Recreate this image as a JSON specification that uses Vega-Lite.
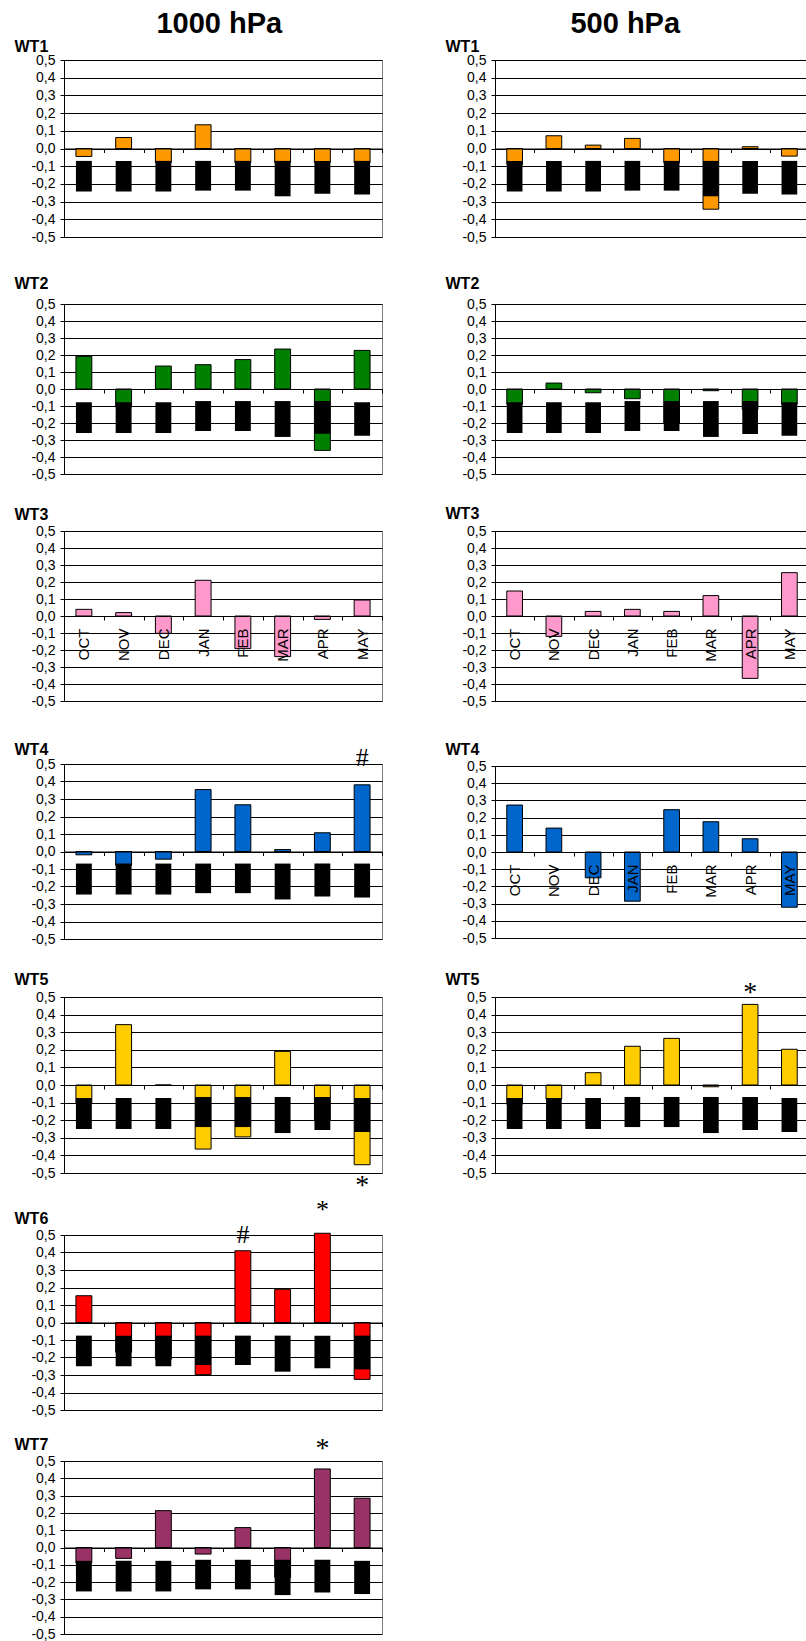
{
"$schema": "https://vega.github.io/schema/vega-lite/v6.json",
"padding": {"left": 13, "top": 9, "right": 0, "bottom": 0},
"config": {
 "font": "Liberation Sans",
 "view": {"stroke": "#808080", "strokeWidth": 1},
 "locale": {"number": {"decimal": ",", "thousands": ".", "grouping": [3], "currency": ["", ""], "minus": "-"}},
 "axis": {"domainColor": "#000", "tickColor": "#000", "labelColor": "#000", "titleColor": "#000", "labelFont": "Liberation Sans", "titleFont": "Liberation Sans", "domainWidth": 1, "tickWidth": 1},
 "axisY": {"format": ".1f", "grid": true, "gridColor": "#000", "gridWidth": 1, "tickSize": 4, "labelPadding": 5, "labelFontSize": 14, "labelOverlap": false, "minExtent": 50, "maxExtent": 50, "titleAngle": 0, "titleAlign": "left", "titleBaseline": "alphabetic", "titleFontSize": 16, "titleFontWeight": "bold"},
 "axisX": {"title": null, "labelAngle": 270, "labelFontSize": 15, "labelPadding": 8, "labelOverlap": false, "tickSize": 4, "tickBand": "extent", "grid": false},
 "title": {"font": "Liberation Sans", "fontSize": 29, "fontWeight": "bold", "color": "#000", "baseline": "alphabetic"}
},
"datasets": {
 "bars": [
  {"p":"1000","wt":"WT1","m":"OCT","v":-0.045,"hi":-0.07,"lo":-0.243},
  {"p":"1000","wt":"WT1","m":"NOV","v":0.062,"hi":-0.07,"lo":-0.243},
  {"p":"1000","wt":"WT1","m":"DEC","v":-0.08,"hi":-0.07,"lo":-0.243},
  {"p":"1000","wt":"WT1","m":"JAN","v":0.134,"hi":-0.07,"lo":-0.238},
  {"p":"1000","wt":"WT1","m":"FEB","v":-0.08,"hi":-0.07,"lo":-0.238},
  {"p":"1000","wt":"WT1","m":"MAR","v":-0.08,"hi":-0.07,"lo":-0.27},
  {"p":"1000","wt":"WT1","m":"APR","v":-0.08,"hi":-0.07,"lo":-0.255},
  {"p":"1000","wt":"WT1","m":"MAY","v":-0.08,"hi":-0.07,"lo":-0.26},
  {"p":"500","wt":"WT1","m":"OCT","v":-0.09,"hi":-0.07,"lo":-0.243},
  {"p":"500","wt":"WT1","m":"NOV","v":0.072,"hi":-0.07,"lo":-0.243},
  {"p":"500","wt":"WT1","m":"DEC","v":0.019,"hi":-0.07,"lo":-0.243},
  {"p":"500","wt":"WT1","m":"JAN","v":0.057,"hi":-0.07,"lo":-0.238},
  {"p":"500","wt":"WT1","m":"FEB","v":-0.08,"hi":-0.07,"lo":-0.238},
  {"p":"500","wt":"WT1","m":"MAR","v":-0.343,"hi":-0.07,"lo":-0.27},
  {"p":"500","wt":"WT1","m":"APR","v":0.01,"hi":-0.07,"lo":-0.255},
  {"p":"500","wt":"WT1","m":"MAY","v":-0.043,"hi":-0.07,"lo":-0.26},
  {"p":"1000","wt":"WT2","m":"OCT","v":0.192,"hi":-0.078,"lo":-0.259},
  {"p":"1000","wt":"WT2","m":"NOV","v":-0.106,"hi":-0.078,"lo":-0.259},
  {"p":"1000","wt":"WT2","m":"DEC","v":0.135,"hi":-0.078,"lo":-0.259},
  {"p":"1000","wt":"WT2","m":"JAN","v":0.143,"hi":-0.071,"lo":-0.247},
  {"p":"1000","wt":"WT2","m":"FEB","v":0.173,"hi":-0.071,"lo":-0.247},
  {"p":"1000","wt":"WT2","m":"MAR","v":0.235,"hi":-0.071,"lo":-0.282},
  {"p":"1000","wt":"WT2","m":"APR","v":-0.361,"hi":-0.071,"lo":-0.263},
  {"p":"1000","wt":"WT2","m":"MAY","v":0.227,"hi":-0.078,"lo":-0.275},
  {"p":"500","wt":"WT2","m":"OCT","v":-0.09,"hi":-0.078,"lo":-0.259},
  {"p":"500","wt":"WT2","m":"NOV","v":0.035,"hi":-0.078,"lo":-0.259},
  {"p":"500","wt":"WT2","m":"DEC","v":-0.022,"hi":-0.078,"lo":-0.259},
  {"p":"500","wt":"WT2","m":"JAN","v":-0.057,"hi":-0.071,"lo":-0.247},
  {"p":"500","wt":"WT2","m":"FEB","v":-0.2,"hi":-0.071,"lo":-0.247},
  {"p":"500","wt":"WT2","m":"MAR","v":-0.01,"hi":-0.071,"lo":-0.282},
  {"p":"500","wt":"WT2","m":"APR","v":-0.12,"hi":-0.071,"lo":-0.265},
  {"p":"500","wt":"WT2","m":"MAY","v":-0.09,"hi":-0.078,"lo":-0.275},
  {"p":"1000","wt":"WT3","m":"OCT","v":0.039},
  {"p":"1000","wt":"WT3","m":"NOV","v":0.02},
  {"p":"1000","wt":"WT3","m":"DEC","v":-0.102},
  {"p":"1000","wt":"WT3","m":"JAN","v":0.21},
  {"p":"1000","wt":"WT3","m":"FEB","v":-0.192},
  {"p":"1000","wt":"WT3","m":"MAR","v":-0.239},
  {"p":"1000","wt":"WT3","m":"APR","v":-0.02},
  {"p":"1000","wt":"WT3","m":"MAY","v":0.094},
  {"p":"500","wt":"WT3","m":"OCT","v":0.147},
  {"p":"500","wt":"WT3","m":"NOV","v":-0.12},
  {"p":"500","wt":"WT3","m":"DEC","v":0.027},
  {"p":"500","wt":"WT3","m":"JAN","v":0.039},
  {"p":"500","wt":"WT3","m":"FEB","v":0.027},
  {"p":"500","wt":"WT3","m":"MAR","v":0.12},
  {"p":"500","wt":"WT3","m":"APR","v":-0.367},
  {"p":"500","wt":"WT3","m":"MAY","v":0.255},
  {"p":"1000","wt":"WT4","m":"OCT","v":-0.019,"hi":-0.069,"lo":-0.246},
  {"p":"1000","wt":"WT4","m":"NOV","v":-0.08,"hi":-0.069,"lo":-0.246},
  {"p":"1000","wt":"WT4","m":"DEC","v":-0.044,"hi":-0.069,"lo":-0.246},
  {"p":"1000","wt":"WT4","m":"JAN","v":0.354,"hi":-0.069,"lo":-0.238},
  {"p":"1000","wt":"WT4","m":"FEB","v":0.267,"hi":-0.069,"lo":-0.238},
  {"p":"1000","wt":"WT4","m":"MAR","v":0.011,"hi":-0.069,"lo":-0.274},
  {"p":"1000","wt":"WT4","m":"APR","v":0.107,"hi":-0.069,"lo":-0.257},
  {"p":"1000","wt":"WT4","m":"MAY","v":0.381,"hi":-0.069,"lo":-0.263},
  {"p":"500","wt":"WT4","m":"OCT","v":0.273},
  {"p":"500","wt":"WT4","m":"NOV","v":0.139},
  {"p":"500","wt":"WT4","m":"DEC","v":-0.15},
  {"p":"500","wt":"WT4","m":"JAN","v":-0.286},
  {"p":"500","wt":"WT4","m":"FEB","v":0.246},
  {"p":"500","wt":"WT4","m":"MAR","v":0.176},
  {"p":"500","wt":"WT4","m":"APR","v":0.077},
  {"p":"500","wt":"WT4","m":"MAY","v":-0.321},
  {"p":"1000","wt":"WT5","m":"OCT","v":-0.108,"hi":-0.074,"lo":-0.25},
  {"p":"1000","wt":"WT5","m":"NOV","v":0.343,"hi":-0.074,"lo":-0.25},
  {"p":"1000","wt":"WT5","m":"DEC","v":0,"hi":-0.074,"lo":-0.25},
  {"p":"1000","wt":"WT5","m":"JAN","v":-0.364,"hi":-0.068,"lo":-0.239},
  {"p":"1000","wt":"WT5","m":"FEB","v":-0.295,"hi":-0.068,"lo":-0.239},
  {"p":"1000","wt":"WT5","m":"MAR","v":0.191,"hi":-0.068,"lo":-0.273},
  {"p":"1000","wt":"WT5","m":"APR","v":-0.2,"hi":-0.068,"lo":-0.256},
  {"p":"1000","wt":"WT5","m":"MAY","v":-0.453,"hi":-0.074,"lo":-0.267},
  {"p":"500","wt":"WT5","m":"OCT","v":-0.11,"hi":-0.074,"lo":-0.25},
  {"p":"500","wt":"WT5","m":"NOV","v":-0.08,"hi":-0.074,"lo":-0.25},
  {"p":"500","wt":"WT5","m":"DEC","v":0.07,"hi":-0.074,"lo":-0.25},
  {"p":"500","wt":"WT5","m":"JAN","v":0.22,"hi":-0.068,"lo":-0.239},
  {"p":"500","wt":"WT5","m":"FEB","v":0.265,"hi":-0.068,"lo":-0.239},
  {"p":"500","wt":"WT5","m":"MAR","v":-0.01,"hi":-0.068,"lo":-0.273},
  {"p":"500","wt":"WT5","m":"APR","v":0.458,"hi":-0.068,"lo":-0.256},
  {"p":"500","wt":"WT5","m":"MAY","v":0.203,"hi":-0.074,"lo":-0.267},
  {"p":"1000","wt":"WT6","m":"OCT","v":0.153,"hi":-0.075,"lo":-0.25},
  {"p":"1000","wt":"WT6","m":"NOV","v":-0.17,"hi":-0.075,"lo":-0.25},
  {"p":"1000","wt":"WT6","m":"DEC","v":-0.21,"hi":-0.075,"lo":-0.25},
  {"p":"1000","wt":"WT6","m":"JAN","v":-0.298,"hi":-0.075,"lo":-0.243},
  {"p":"1000","wt":"WT6","m":"FEB","v":0.41,"hi":-0.075,"lo":-0.243},
  {"p":"1000","wt":"WT6","m":"MAR","v":0.19,"hi":-0.075,"lo":-0.281},
  {"p":"1000","wt":"WT6","m":"APR","v":0.51,"hi":-0.075,"lo":-0.262},
  {"p":"1000","wt":"WT6","m":"MAY","v":-0.325,"hi":-0.075,"lo":-0.268},
  {"p":"1000","wt":"WT7","m":"OCT","v":-0.09,"hi":-0.077,"lo":-0.254},
  {"p":"1000","wt":"WT7","m":"NOV","v":-0.063,"hi":-0.077,"lo":-0.254},
  {"p":"1000","wt":"WT7","m":"DEC","v":0.213,"hi":-0.077,"lo":-0.254},
  {"p":"1000","wt":"WT7","m":"JAN","v":-0.038,"hi":-0.071,"lo":-0.242},
  {"p":"1000","wt":"WT7","m":"FEB","v":0.115,"hi":-0.071,"lo":-0.242},
  {"p":"1000","wt":"WT7","m":"MAR","v":-0.173,"hi":-0.071,"lo":-0.275},
  {"p":"1000","wt":"WT7","m":"APR","v":0.454,"hi":-0.071,"lo":-0.26},
  {"p":"1000","wt":"WT7","m":"MAY","v":0.285,"hi":-0.077,"lo":-0.269}
 ],
 "notes": [
  {"p":"1000","wt":"WT4","m":"MAY","s":"#","pos":0.535},
  {"p":"1000","wt":"WT5","m":"MAY","s":"*","pos":-0.576},
  {"p":"1000","wt":"WT6","m":"FEB","s":"#","pos":0.5},
  {"p":"1000","wt":"WT6","m":"APR","s":"*","pos":0.645},
  {"p":"1000","wt":"WT7","m":"APR","s":"*","pos":0.567},
  {"p":"500","wt":"WT5","m":"APR","s":"*","pos":0.52}
 ]
},
"spacing": 61,
"hconcat": [
 {
  "title": {"text": "1000 hPa", "anchor": "middle", "offset": -1, "dx": 21},
  "bounds": "flush",
  "spacing": 0,
  "vconcat": [
   {"width": 318, "height": 177,
    "encoding": {"x": {"field": "m", "type": "nominal", "scale": {"domain": ["OCT","NOV","DEC","JAN","FEB","MAR","APR","MAY"], "paddingInner": 0, "paddingOuter": 0}, "axis": {"offset": -88.5, "labels": false, "zindex": 1}}},
    "layer": [
     {"data": {"name": "bars"}, "transform": [{"filter": "datum.p == '1000' && datum.wt == 'WT1'"}],
      "mark": {"type": "bar", "width": {"band": 0.4}, "fill": "#FF9900", "stroke": "#000", "strokeWidth": 1},
      "encoding": {"y": {"field": "v", "type": "quantitative", "title": "WT1", "scale": {"domain": [-0.5, 0.5], "nice": false}, "axis": {"titleX": -50, "titleY": -9, "values": [-0.5,-0.4,-0.3,-0.2,-0.1,0,0.1,0.2,0.3,0.4,0.5], "labelOverlap": false}}, "y2": {"datum": 0}}},
     {"data": {"name": "bars"}, "transform": [{"filter": "datum.p == '1000' && datum.wt == 'WT1'"}],
      "mark": {"type": "bar", "width": {"band": 0.4}, "fill": "#000"},
      "encoding": {"y": {"field": "hi", "type": "quantitative", "title": "WT1", "axis": {"titleX": -50, "titleY": -9, "values": [-0.5,-0.4,-0.3,-0.2,-0.1,0,0.1,0.2,0.3,0.4,0.5], "labelOverlap": false}}, "y2": {"field": "lo"}}}
    ]},
   {"width": 10, "height": 67, "view": {"stroke": null}, "data": {"values": []}, "mark": "point", "encoding": {}},
   {"width": 318, "height": 170,
    "encoding": {"x": {"field": "m", "type": "nominal", "scale": {"domain": ["OCT","NOV","DEC","JAN","FEB","MAR","APR","MAY"], "paddingInner": 0, "paddingOuter": 0}, "axis": {"offset": -85, "labels": false, "zindex": 1}}},
    "layer": [
     {"data": {"name": "bars"}, "transform": [{"filter": "datum.p == '1000' && datum.wt == 'WT2'"}],
      "mark": {"type": "bar", "width": {"band": 0.4}, "fill": "#008000", "stroke": "#000", "strokeWidth": 1},
      "encoding": {"y": {"field": "v", "type": "quantitative", "title": "WT2", "scale": {"domain": [-0.5, 0.5], "nice": false}, "axis": {"titleX": -50, "titleY": -16, "values": [-0.5,-0.4,-0.3,-0.2,-0.1,0,0.1,0.2,0.3,0.4,0.5], "labelOverlap": false}}, "y2": {"datum": 0}}},
     {"data": {"name": "bars"}, "transform": [{"filter": "datum.p == '1000' && datum.wt == 'WT2'"}],
      "mark": {"type": "bar", "width": {"band": 0.4}, "fill": "#000"},
      "encoding": {"y": {"field": "hi", "type": "quantitative", "title": "WT2", "axis": {"titleX": -50, "titleY": -16, "values": [-0.5,-0.4,-0.3,-0.2,-0.1,0,0.1,0.2,0.3,0.4,0.5], "labelOverlap": false}}, "y2": {"field": "lo"}}}
    ]},
   {"width": 10, "height": 57, "view": {"stroke": null}, "data": {"values": []}, "mark": "point", "encoding": {}},
   {"width": 318, "height": 170,
    "encoding": {"x": {"field": "m", "type": "nominal", "scale": {"domain": ["OCT","NOV","DEC","JAN","FEB","MAR","APR","MAY"], "paddingInner": 0, "paddingOuter": 0}, "axis": {"offset": -85, "labels": true, "zindex": 1}}},
    "layer": [
     {"data": {"name": "bars"}, "transform": [{"filter": "datum.p == '1000' && datum.wt == 'WT3'"}],
      "mark": {"type": "bar", "width": {"band": 0.4}, "fill": "#FF99CC", "stroke": "#000", "strokeWidth": 1},
      "encoding": {"y": {"field": "v", "type": "quantitative", "title": "WT3", "scale": {"domain": [-0.5, 0.5], "nice": false}, "axis": {"titleX": -50, "titleY": -12, "values": [-0.5,-0.4,-0.3,-0.2,-0.1,0,0.1,0.2,0.3,0.4,0.5], "labelOverlap": false}}, "y2": {"datum": 0}}}
    ]},
   {"width": 10, "height": 63, "view": {"stroke": null}, "data": {"values": []}, "mark": "point", "encoding": {}},
   {"width": 318, "height": 175,
    "encoding": {"x": {"field": "m", "type": "nominal", "scale": {"domain": ["OCT","NOV","DEC","JAN","FEB","MAR","APR","MAY"], "paddingInner": 0, "paddingOuter": 0}, "axis": {"offset": -87.5, "labels": false, "zindex": 1}}},
    "layer": [
     {"data": {"name": "bars"}, "transform": [{"filter": "datum.p == '1000' && datum.wt == 'WT4'"}],
      "mark": {"type": "bar", "width": {"band": 0.4}, "fill": "#0066CC", "stroke": "#000", "strokeWidth": 1},
      "encoding": {"y": {"field": "v", "type": "quantitative", "title": "WT4", "scale": {"domain": [-0.5, 0.5], "nice": false}, "axis": {"titleX": -50, "titleY": -10, "values": [-0.5,-0.4,-0.3,-0.2,-0.1,0,0.1,0.2,0.3,0.4,0.5], "labelOverlap": false}}, "y2": {"datum": 0}}},
     {"data": {"name": "bars"}, "transform": [{"filter": "datum.p == '1000' && datum.wt == 'WT4'"}],
      "mark": {"type": "bar", "width": {"band": 0.4}, "fill": "#000"},
      "encoding": {"y": {"field": "hi", "type": "quantitative", "title": "WT4", "axis": {"titleX": -50, "titleY": -10, "values": [-0.5,-0.4,-0.3,-0.2,-0.1,0,0.1,0.2,0.3,0.4,0.5], "labelOverlap": false}}, "y2": {"field": "lo"}}},
     {"data": {"name": "notes"}, "transform": [{"filter": "datum.p == '1000' && datum.wt == 'WT4'"}],
      "mark": {"type": "text", "font": "Liberation Serif", "fontSize": 26, "baseline": "middle", "color": "#000"},
      "encoding": {"y": {"field": "pos", "type": "quantitative", "title": "WT4", "axis": {"titleX": -50, "titleY": -10, "values": [-0.5,-0.4,-0.3,-0.2,-0.1,0,0.1,0.2,0.3,0.4,0.5], "labelOverlap": false}}, "text": {"field": "s"}}}
    ]},
   {"width": 10, "height": 58, "view": {"stroke": null}, "data": {"values": []}, "mark": "point", "encoding": {}},
   {"width": 318, "height": 176,
    "encoding": {"x": {"field": "m", "type": "nominal", "scale": {"domain": ["OCT","NOV","DEC","JAN","FEB","MAR","APR","MAY"], "paddingInner": 0, "paddingOuter": 0}, "axis": {"offset": -88, "labels": false, "zindex": 1}}},
    "layer": [
     {"data": {"name": "bars"}, "transform": [{"filter": "datum.p == '1000' && datum.wt == 'WT5'"}],
      "mark": {"type": "bar", "width": {"band": 0.4}, "fill": "#FFCC00", "stroke": "#000", "strokeWidth": 1},
      "encoding": {"y": {"field": "v", "type": "quantitative", "title": "WT5", "scale": {"domain": [-0.5, 0.5], "nice": false}, "axis": {"titleX": -50, "titleY": -13, "values": [-0.5,-0.4,-0.3,-0.2,-0.1,0,0.1,0.2,0.3,0.4,0.5], "labelOverlap": false}}, "y2": {"datum": 0}}},
     {"data": {"name": "bars"}, "transform": [{"filter": "datum.p == '1000' && datum.wt == 'WT5'"}],
      "mark": {"type": "bar", "width": {"band": 0.4}, "fill": "#000"},
      "encoding": {"y": {"field": "hi", "type": "quantitative", "title": "WT5", "axis": {"titleX": -50, "titleY": -13, "values": [-0.5,-0.4,-0.3,-0.2,-0.1,0,0.1,0.2,0.3,0.4,0.5], "labelOverlap": false}}, "y2": {"field": "lo"}}},
     {"data": {"name": "notes"}, "transform": [{"filter": "datum.p == '1000' && datum.wt == 'WT5'"}],
      "mark": {"type": "text", "font": "Liberation Serif", "fontSize": 28, "baseline": "middle", "color": "#000"},
      "encoding": {"y": {"field": "pos", "type": "quantitative", "title": "WT5", "axis": {"titleX": -50, "titleY": -13, "values": [-0.5,-0.4,-0.3,-0.2,-0.1,0,0.1,0.2,0.3,0.4,0.5], "labelOverlap": false}}, "text": {"field": "s"}}}
    ]},
   {"width": 10, "height": 62, "view": {"stroke": null}, "data": {"values": []}, "mark": "point", "encoding": {}},
   {"width": 318, "height": 175,
    "encoding": {"x": {"field": "m", "type": "nominal", "scale": {"domain": ["OCT","NOV","DEC","JAN","FEB","MAR","APR","MAY"], "paddingInner": 0, "paddingOuter": 0}, "axis": {"offset": -87.5, "labels": false, "zindex": 1}}},
    "layer": [
     {"data": {"name": "bars"}, "transform": [{"filter": "datum.p == '1000' && datum.wt == 'WT6'"}],
      "mark": {"type": "bar", "width": {"band": 0.4}, "fill": "#FF0000", "stroke": "#000", "strokeWidth": 1},
      "encoding": {"y": {"field": "v", "type": "quantitative", "title": "WT6", "scale": {"domain": [-0.5, 0.5], "nice": false}, "axis": {"titleX": -50, "titleY": -12, "values": [-0.5,-0.4,-0.3,-0.2,-0.1,0,0.1,0.2,0.3,0.4,0.5], "labelOverlap": false}}, "y2": {"datum": 0}}},
     {"data": {"name": "bars"}, "transform": [{"filter": "datum.p == '1000' && datum.wt == 'WT6'"}],
      "mark": {"type": "bar", "width": {"band": 0.4}, "fill": "#000"},
      "encoding": {"y": {"field": "hi", "type": "quantitative", "title": "WT6", "axis": {"titleX": -50, "titleY": -12, "values": [-0.5,-0.4,-0.3,-0.2,-0.1,0,0.1,0.2,0.3,0.4,0.5], "labelOverlap": false}}, "y2": {"field": "lo"}}},
     {"data": {"name": "notes"}, "transform": [{"filter": "datum.p == '1000' && datum.wt == 'WT6'"}],
      "mark": {"type": "text", "font": "Liberation Serif", "fontSize": 26, "baseline": "middle", "color": "#000"},
      "encoding": {"y": {"field": "pos", "type": "quantitative", "title": "WT6", "axis": {"titleX": -50, "titleY": -12, "values": [-0.5,-0.4,-0.3,-0.2,-0.1,0,0.1,0.2,0.3,0.4,0.5], "labelOverlap": false}}, "text": {"field": "s"}}}
    ]},
   {"width": 10, "height": 51, "view": {"stroke": null}, "data": {"values": []}, "mark": "point", "encoding": {}},
   {"width": 318, "height": 173,
    "encoding": {"x": {"field": "m", "type": "nominal", "scale": {"domain": ["OCT","NOV","DEC","JAN","FEB","MAR","APR","MAY"], "paddingInner": 0, "paddingOuter": 0}, "axis": {"offset": -86.5, "labels": false, "zindex": 1}}},
    "layer": [
     {"data": {"name": "bars"}, "transform": [{"filter": "datum.p == '1000' && datum.wt == 'WT7'"}],
      "mark": {"type": "bar", "width": {"band": 0.4}, "fill": "#993366", "stroke": "#000", "strokeWidth": 1},
      "encoding": {"y": {"field": "v", "type": "quantitative", "title": "WT7", "scale": {"domain": [-0.5, 0.5], "nice": false}, "axis": {"titleX": -50, "titleY": -12, "values": [-0.5,-0.4,-0.3,-0.2,-0.1,0,0.1,0.2,0.3,0.4,0.5], "labelOverlap": false}}, "y2": {"datum": 0}}},
     {"data": {"name": "bars"}, "transform": [{"filter": "datum.p == '1000' && datum.wt == 'WT7'"}],
      "mark": {"type": "bar", "width": {"band": 0.4}, "fill": "#000"},
      "encoding": {"y": {"field": "hi", "type": "quantitative", "title": "WT7", "axis": {"titleX": -50, "titleY": -12, "values": [-0.5,-0.4,-0.3,-0.2,-0.1,0,0.1,0.2,0.3,0.4,0.5], "labelOverlap": false}}, "y2": {"field": "lo"}}},
     {"data": {"name": "notes"}, "transform": [{"filter": "datum.p == '1000' && datum.wt == 'WT7'"}],
      "mark": {"type": "text", "font": "Liberation Serif", "fontSize": 28, "baseline": "middle", "color": "#000"},
      "encoding": {"y": {"field": "pos", "type": "quantitative", "title": "WT7", "axis": {"titleX": -50, "titleY": -12, "values": [-0.5,-0.4,-0.3,-0.2,-0.1,0,0.1,0.2,0.3,0.4,0.5], "labelOverlap": false}}, "text": {"field": "s"}}}
    ]}
  ]
 },
 {
  "title": {"text": "500 hPa", "anchor": "middle", "offset": -1, "dx": -2},
  "bounds": "flush",
  "spacing": 0,
  "vconcat": [
   {"width": 314, "height": 177,
    "encoding": {"x": {"field": "m", "type": "nominal", "scale": {"domain": ["OCT","NOV","DEC","JAN","FEB","MAR","APR","MAY"], "paddingInner": 0, "paddingOuter": 0}, "axis": {"offset": -88.5, "labels": false, "zindex": 1}}},
    "layer": [
     {"data": {"name": "bars"}, "transform": [{"filter": "datum.p == '500' && datum.wt == 'WT1'"}],
      "mark": {"type": "bar", "width": {"band": 0.4}, "fill": "#FF9900", "stroke": "#000", "strokeWidth": 1},
      "encoding": {"y": {"field": "v", "type": "quantitative", "title": "WT1", "scale": {"domain": [-0.5, 0.5], "nice": false}, "axis": {"titleX": -50, "titleY": -9, "values": [-0.5,-0.4,-0.3,-0.2,-0.1,0,0.1,0.2,0.3,0.4,0.5], "labelOverlap": false}}, "y2": {"datum": 0}}},
     {"data": {"name": "bars"}, "transform": [{"filter": "datum.p == '500' && datum.wt == 'WT1'"}],
      "mark": {"type": "bar", "width": {"band": 0.4}, "fill": "#000"},
      "encoding": {"y": {"field": "hi", "type": "quantitative", "title": "WT1", "axis": {"titleX": -50, "titleY": -9, "values": [-0.5,-0.4,-0.3,-0.2,-0.1,0,0.1,0.2,0.3,0.4,0.5], "labelOverlap": false}}, "y2": {"field": "lo"}}}
    ]},
   {"width": 10, "height": 67, "view": {"stroke": null}, "data": {"values": []}, "mark": "point", "encoding": {}},
   {"width": 314, "height": 170,
    "encoding": {"x": {"field": "m", "type": "nominal", "scale": {"domain": ["OCT","NOV","DEC","JAN","FEB","MAR","APR","MAY"], "paddingInner": 0, "paddingOuter": 0}, "axis": {"offset": -85, "labels": false, "zindex": 1}}},
    "layer": [
     {"data": {"name": "bars"}, "transform": [{"filter": "datum.p == '500' && datum.wt == 'WT2'"}],
      "mark": {"type": "bar", "width": {"band": 0.4}, "fill": "#008000", "stroke": "#000", "strokeWidth": 1},
      "encoding": {"y": {"field": "v", "type": "quantitative", "title": "WT2", "scale": {"domain": [-0.5, 0.5], "nice": false}, "axis": {"titleX": -50, "titleY": -16, "values": [-0.5,-0.4,-0.3,-0.2,-0.1,0,0.1,0.2,0.3,0.4,0.5], "labelOverlap": false}}, "y2": {"datum": 0}}},
     {"data": {"name": "bars"}, "transform": [{"filter": "datum.p == '500' && datum.wt == 'WT2'"}],
      "mark": {"type": "bar", "width": {"band": 0.4}, "fill": "#000"},
      "encoding": {"y": {"field": "hi", "type": "quantitative", "title": "WT2", "axis": {"titleX": -50, "titleY": -16, "values": [-0.5,-0.4,-0.3,-0.2,-0.1,0,0.1,0.2,0.3,0.4,0.5], "labelOverlap": false}}, "y2": {"field": "lo"}}}
    ]},
   {"width": 10, "height": 57, "view": {"stroke": null}, "data": {"values": []}, "mark": "point", "encoding": {}},
   {"width": 314, "height": 170,
    "encoding": {"x": {"field": "m", "type": "nominal", "scale": {"domain": ["OCT","NOV","DEC","JAN","FEB","MAR","APR","MAY"], "paddingInner": 0, "paddingOuter": 0}, "axis": {"offset": -85, "labels": true, "zindex": 1}}},
    "layer": [
     {"data": {"name": "bars"}, "transform": [{"filter": "datum.p == '500' && datum.wt == 'WT3'"}],
      "mark": {"type": "bar", "width": {"band": 0.4}, "fill": "#FF99CC", "stroke": "#000", "strokeWidth": 1},
      "encoding": {"y": {"field": "v", "type": "quantitative", "title": "WT3", "scale": {"domain": [-0.5, 0.5], "nice": false}, "axis": {"titleX": -50, "titleY": -13, "values": [-0.5,-0.4,-0.3,-0.2,-0.1,0,0.1,0.2,0.3,0.4,0.5], "labelOverlap": false}}, "y2": {"datum": 0}}}
    ]},
   {"width": 10, "height": 65, "view": {"stroke": null}, "data": {"values": []}, "mark": "point", "encoding": {}},
   {"width": 314, "height": 172,
    "encoding": {"x": {"field": "m", "type": "nominal", "scale": {"domain": ["OCT","NOV","DEC","JAN","FEB","MAR","APR","MAY"], "paddingInner": 0, "paddingOuter": 0}, "axis": {"offset": -86, "labels": true, "zindex": 1}}},
    "layer": [
     {"data": {"name": "bars"}, "transform": [{"filter": "datum.p == '500' && datum.wt == 'WT4'"}],
      "mark": {"type": "bar", "width": {"band": 0.4}, "fill": "#0066CC", "stroke": "#000", "strokeWidth": 1},
      "encoding": {"y": {"field": "v", "type": "quantitative", "title": "WT4", "scale": {"domain": [-0.5, 0.5], "nice": false}, "axis": {"titleX": -50, "titleY": -12, "values": [-0.5,-0.4,-0.3,-0.2,-0.1,0,0.1,0.2,0.3,0.4,0.5], "labelOverlap": false}}, "y2": {"datum": 0}}}
    ]},
   {"width": 10, "height": 59, "view": {"stroke": null}, "data": {"values": []}, "mark": "point", "encoding": {}},
   {"width": 314, "height": 176,
    "encoding": {"x": {"field": "m", "type": "nominal", "scale": {"domain": ["OCT","NOV","DEC","JAN","FEB","MAR","APR","MAY"], "paddingInner": 0, "paddingOuter": 0}, "axis": {"offset": -88, "labels": false, "zindex": 1}}},
    "layer": [
     {"data": {"name": "bars"}, "transform": [{"filter": "datum.p == '500' && datum.wt == 'WT5'"}],
      "mark": {"type": "bar", "width": {"band": 0.4}, "fill": "#FFCC00", "stroke": "#000", "strokeWidth": 1},
      "encoding": {"y": {"field": "v", "type": "quantitative", "title": "WT5", "scale": {"domain": [-0.5, 0.5], "nice": false}, "axis": {"titleX": -50, "titleY": -13, "values": [-0.5,-0.4,-0.3,-0.2,-0.1,0,0.1,0.2,0.3,0.4,0.5], "labelOverlap": false}}, "y2": {"datum": 0}}},
     {"data": {"name": "bars"}, "transform": [{"filter": "datum.p == '500' && datum.wt == 'WT5'"}],
      "mark": {"type": "bar", "width": {"band": 0.4}, "fill": "#000"},
      "encoding": {"y": {"field": "hi", "type": "quantitative", "title": "WT5", "axis": {"titleX": -50, "titleY": -13, "values": [-0.5,-0.4,-0.3,-0.2,-0.1,0,0.1,0.2,0.3,0.4,0.5], "labelOverlap": false}}, "y2": {"field": "lo"}}},
     {"data": {"name": "notes"}, "transform": [{"filter": "datum.p == '500' && datum.wt == 'WT5'"}],
      "mark": {"type": "text", "font": "Liberation Serif", "fontSize": 28, "baseline": "middle", "color": "#000"},
      "encoding": {"y": {"field": "pos", "type": "quantitative", "title": "WT5", "axis": {"titleX": -50, "titleY": -13, "values": [-0.5,-0.4,-0.3,-0.2,-0.1,0,0.1,0.2,0.3,0.4,0.5], "labelOverlap": false}}, "text": {"field": "s"}}}
    ]}
  ]
 }
]
}
